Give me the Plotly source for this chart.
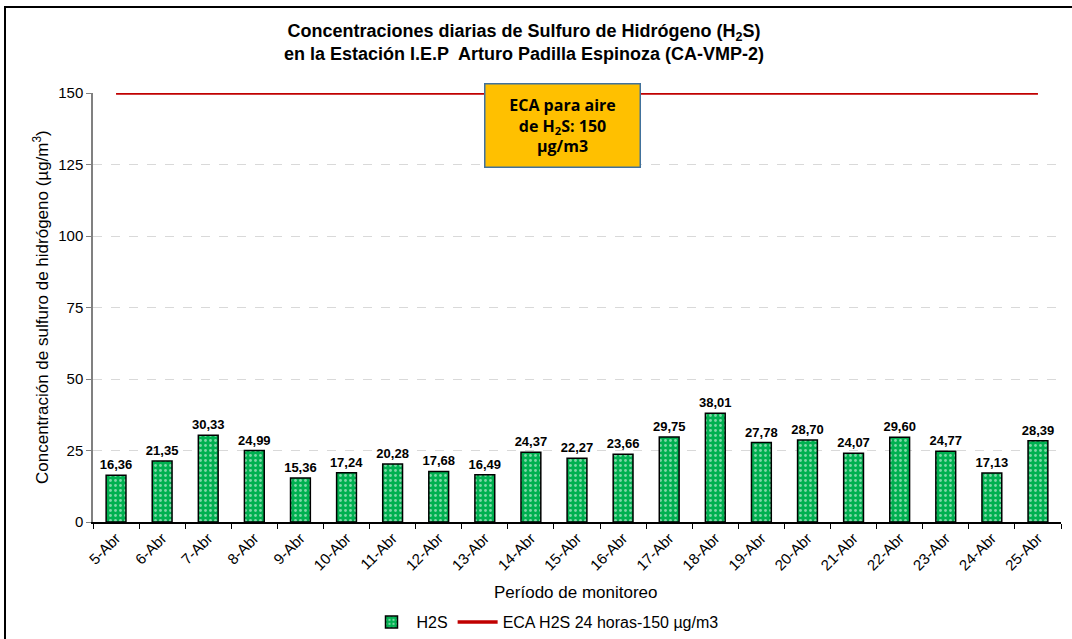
import plotly.graph_objects as go

categories = ["5-Abr", "6-Abr", "7-Abr", "8-Abr", "9-Abr", "10-Abr", "11-Abr", "12-Abr",
              "13-Abr", "14-Abr", "15-Abr", "16-Abr", "17-Abr", "18-Abr", "19-Abr", "20-Abr",
              "21-Abr", "22-Abr", "23-Abr", "24-Abr", "25-Abr"]
h2s_values = [16.36, 21.35, 30.33, 24.99, 15.36, 17.24, 20.28, 17.68, 16.49, 24.37, 22.27,
              23.66, 29.75, 38.01, 27.78, 28.70, 24.07, 29.60, 24.77, 17.13, 28.39]
eca_values = [150] * len(categories)
y_ticks = [0, 25, 50, 75, 100, 125, 150]

FONT = "Liberation Sans, Arial, sans-serif"
labels = ["<b>" + f"{v:.2f}".replace(".", ",") + "</b>" for v in h2s_values]

W, H = 1072, 639
OFF = 0  # body margin removed via post_script
PL, PR, PT, PB = 93 - OFF, 1061 - OFF, 93 - OFF, 522 - OFF  # plot area in figure px
PW, PH = PR - PL, PB - PT


def px(xp):
    return (xp - OFF - PL) / PW


def py(yp):
    return (PB - (yp - OFF)) / PH


fig = go.Figure()
fig.add_trace(go.Bar(
    x=categories, y=h2s_values, name="H2S",
    width=0.43,
    marker=dict(color="#00B050", line=dict(color="black", width=1.5),
                pattern=dict(shape=".", fgcolor="white", bgcolor="#00B050", size=5, solidity=0.25)),
    text=labels, textposition="outside", cliponaxis=False, constraintext="none",
    textfont=dict(family=FONT, size=13, color="black"),
))
fig.add_trace(go.Scatter(
    x=categories, y=eca_values, name="ECA H2S 24 horas-150 µg/m3",
    mode="lines", line=dict(color="#C00000", width=3.5),
))

fig.update_layout(
    width=W, height=H,
    margin=dict(l=PL, r=W - PR, t=PT, b=H - PB, autoexpand=False),
    paper_bgcolor="white", plot_bgcolor="white",
    font=dict(family=FONT, size=13, color="black"),
    showlegend=True,
    legend=dict(orientation="h", x=px(545), xanchor="center", y=py(622), yanchor="middle",
                font=dict(size=16), itemwidth=40, traceorder="normal"),
    title=dict(text="<b>Concentraciones diarias de Sulfuro de Hidrógeno (H<sub>2</sub>S)<br>"
                    "en la Estación I.E.P  Arturo Padilla Espinoza (CA-VMP-2)</b>",
               x=(524 - OFF) / W, xanchor="center", xref="container",
               y=1 - (37 - OFF) / H, yanchor="middle", yref="container",
               font=dict(size=18, family=FONT)),
)
fig.update_xaxes(
    type="category", tickangle=-45, tickson="boundaries", ticks="outside", ticklen=5,
    tickcolor="black", showline=True, linecolor="black", linewidth=1.5,
    tickfont=dict(size=15), showgrid=False, automargin=False,
)
fig.update_yaxes(
    range=[0, 150], tickvals=y_ticks, ticks="outside", ticklen=5, tickcolor="#808080",
    showline=True, linecolor="#808080", linewidth=1.5,
    showgrid=True, gridcolor="#D9D9D9", griddash="dash", gridwidth=1,
    tickfont=dict(size=15), zeroline=False, automargin=False,
)

fig.add_annotation(text="Período de monitoreo", xref="paper", yref="paper",
                   x=px(576), y=py(592), xanchor="center", yanchor="middle",
                   showarrow=False, font=dict(size=17))
fig.add_annotation(text="Concentración de sulfuro de hidrógeno (µg/m<sup>3</sup>)",
                   xref="paper", yref="paper", x=px(41), y=py(307), textangle=-90,
                   xanchor="center", yanchor="middle", showarrow=False, font=dict(size=17))
fig.add_annotation(text="<b>ECA para aire<br>de H<sub>2</sub>S: 150<br>µg/m3</b>",
                   xref="paper", yref="paper", x=px(562), y=py(125),
                   xanchor="center", yanchor="middle", showarrow=False,
                   bgcolor="#FFC000", bordercolor="#41719C", borderwidth=1.5,
                   width=150, height=78, borderpad=2,
                   font=dict(size=16, family="Open Sans, Lato, sans-serif", color="black"))
fig.add_shape(type="rect", xref="paper", yref="paper",
              x0=px(5), y0=py(700), x1=px(1150), y1=py(7),
              line=dict(color="black", width=2), fillcolor="rgba(0,0,0,0)")

fig.write_html("out.html",
               config={"displayModeBar": False},
               post_script="document.body.style.margin='0px';document.body.style.padding='0px';")
